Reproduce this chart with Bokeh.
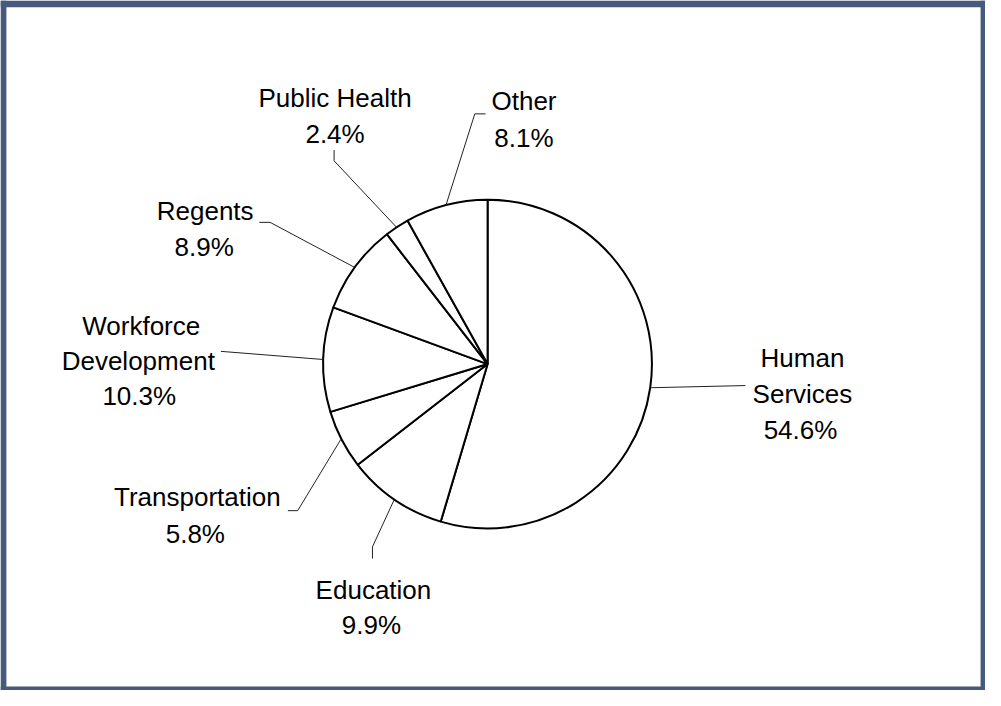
import math
from bokeh.plotting import figure
from bokeh.models import Range1d, ColumnDataSource
from bokeh.core.properties import value
from bokeh.embed import file_html
from bokeh.resources import INLINE

# ---- data ----
categories = ["Human Services", "Education", "Transportation",
              "Workforce Development", "Regents", "Public Health", "Other"]
shares = [54.6, 9.9, 5.8, 10.3, 8.9, 2.4, 8.1]
wrap_name = [True, False, False, True, False, False, False]

# ---- layout (reference-image pixel coordinates, 1001x706) ----
W, H = 1001, 706
CX, CY, R = 495, 372, 167
label_pos = [
    [(815, 366), (815, 403), (813, 439)],
    [(379, 603), (377, 639)],
    [(200, 508), (198, 546)],
    [(143, 333), (140, 369), (141, 405)],
    [(208, 215), (207, 252)],
    [(340, 100), (340, 137)],
    [(532, 103), (532, 141)],
]
leader_start = [
    [(757, 394)],
    [(378, 571), (378, 559)],
    [(292, 522), (302, 522)],
    [(224, 359)],
    [(263, 227), (274, 227)],
    [(339, 153), (339, 164)],
    [(493, 116), (482, 116)],
]

def fy(y):
    return H - y

p = figure(width=985, height=690, x_range=Range1d(0, W), y_range=Range1d(0, H),
           output_backend="svg", toolbar_location=None, min_border=0)
p.axis.visible = False
p.grid.visible = False
p.outline_line_color = None
p.background_fill_color = "white"
p.border_fill_color = "white"

# wedges
total = sum(shares)
starts, ends, mids = [], [], []
cum = 0.0
for s in shares:
    a0 = math.pi / 2 - 2 * math.pi * cum / total
    cum += s
    a1 = math.pi / 2 - 2 * math.pi * cum / total
    starts.append(a0)
    ends.append(a1)
    mids.append((a0 + a1) / 2)

src = ColumnDataSource(dict(x=[CX] * len(shares), y=[fy(CY)] * len(shares),
                            start=starts, end=ends, cat=categories))
p.wedge(x="x", y="y", radius=R, start_angle="start", end_angle="end",
        direction="clock", fill_color="white", line_color="black",
        line_width=2, source=src)

# leader lines
xs, ys = [], []
for i, m in enumerate(mids):
    pts = list(leader_start[i])
    ex = CX + (R + 1) * math.cos(m)
    ey = CY - (R + 1) * math.sin(m)
    pts.append((ex, ey))
    xs.append([q[0] for q in pts])
    ys.append([fy(q[1]) for q in pts])
p.multi_line(xs=xs, ys=ys, line_color="#222222", line_width=1)

# labels
tx, ty, tt = [], [], []
for i, name in enumerate(categories):
    lines = name.split(" ") if wrap_name[i] else [name]
    lines.append(f"{shares[i]:.1f}%")
    for (lx, ly), t in zip(label_pos[i], lines):
        tx.append(lx)
        ty.append(fy(ly))
        tt.append(t)
p.text(x=tx, y=ty, text=tt, text_align="center", text_baseline="alphabetic",
       text_font=value("Liberation Sans"), text_font_size="26px",
       text_color="black")

# frame border
bc = "#465A7C"
p.quad(left=[0, 0, 996, 0], right=[6, W, W, W],
       bottom=[fy(H), fy(7), fy(H), fy(H)],
       top=[fy(0), fy(0), fy(0), fy(702)],
       fill_color=bc, line_color=None)

open("out.html", "w").write(file_html(p, INLINE))
